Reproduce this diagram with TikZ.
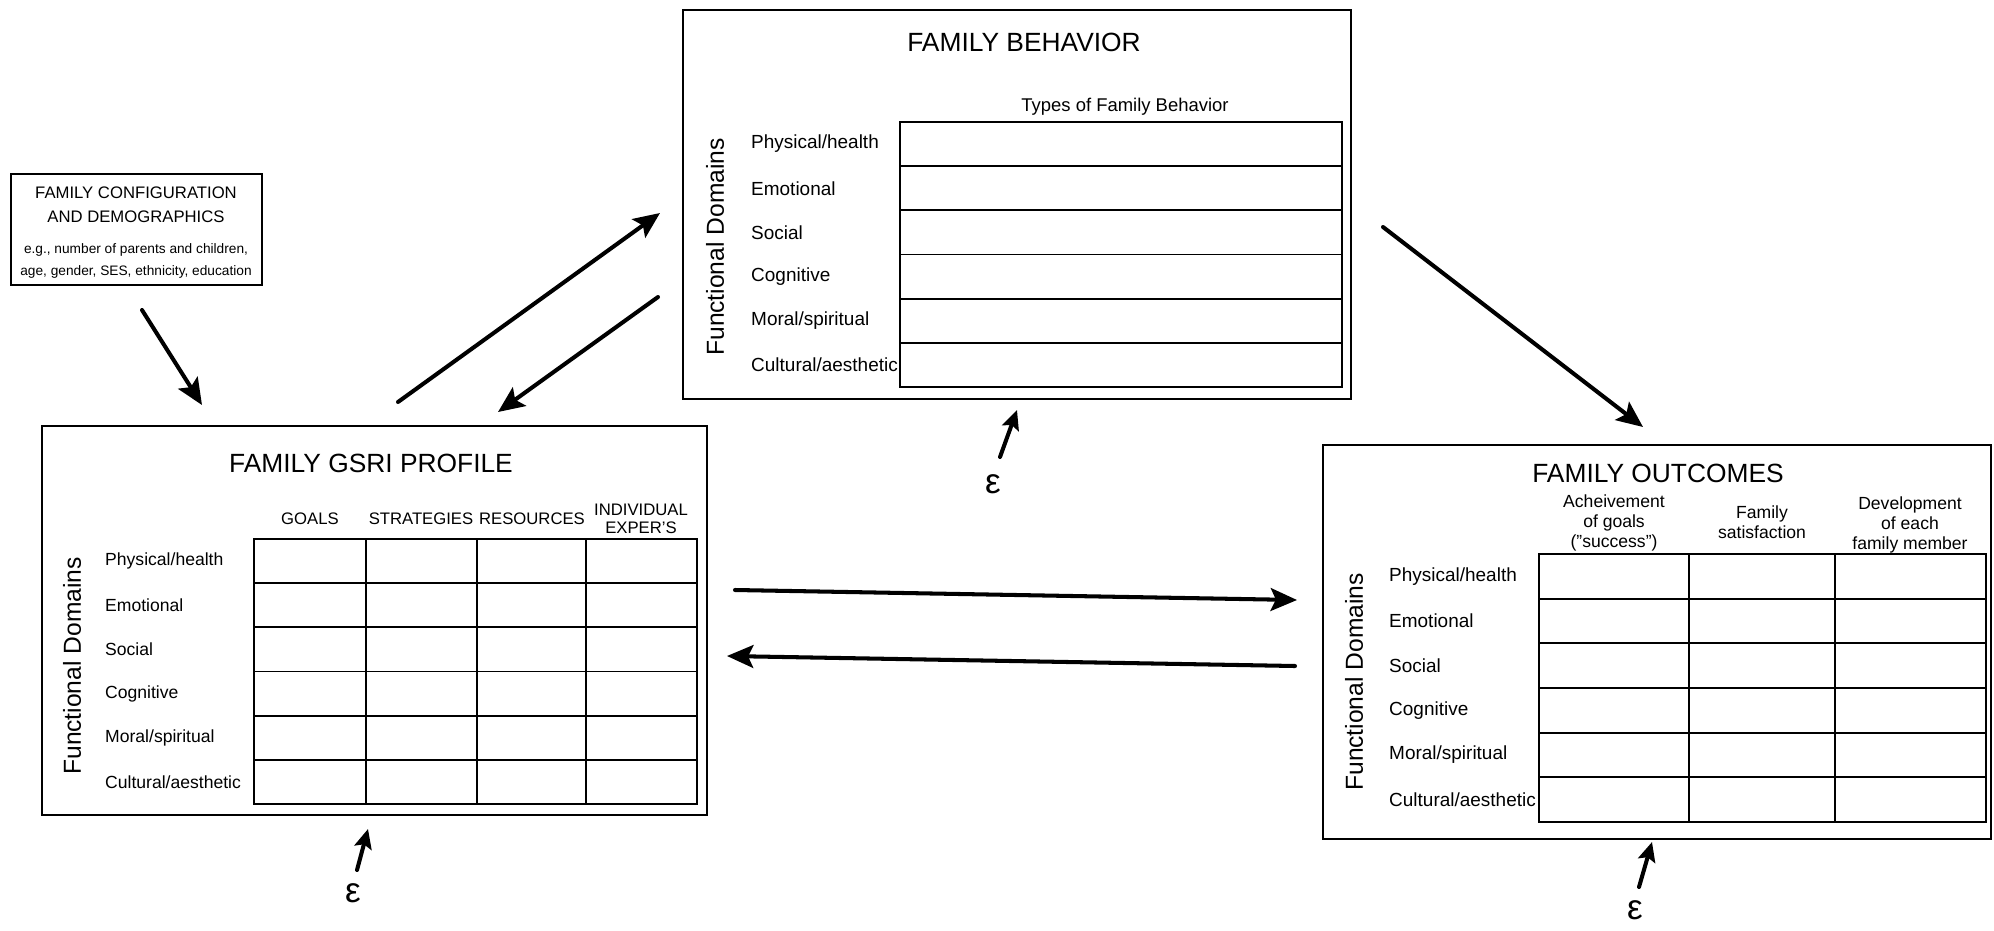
\documentclass[tikz,border=0pt]{standalone}
\usepackage{fontspec}
\setmainfont{Liberation Sans}
\usetikzlibrary{arrows.meta}

\begin{document}
\begin{tikzpicture}[x=0.02cm,y=-0.02cm,
        panel/.style={line width=1.1pt},
        cell/.style={line width=1pt},
        flow/.style={-{Stealth[length=15pt,width=13pt,inset=3pt]},line width=2.3pt,line cap=round},
        noise/.style={-{Stealth[length=11pt,width=10pt,inset=2pt]},line width=2.3pt,line cap=round},
        heading/.style={font=\fontsize{15}{18}\selectfont},
        domlab/.style={rotate=90,font=\fontsize{14}{16}\selectfont},
        rowlab/.style={anchor=west,font=\fontsize{10.8}{13}\selectfont},
        collab/.style={align=center,font=\fontsize{10}{11.5}\selectfont},
        errlab/.style={font=\fontsize{20}{22}\selectfont}]

    \useasboundingbox (0,0) rectangle (1994,930);

    % family configuration
    \draw[panel] (11,174) rectangle (262,285);
    \node[align=center,font=\fontsize{9.5}{13.6}\selectfont] (cfg-title) at (136,205)
        {FAMILY CONFIGURATION\\AND DEMOGRAPHICS};
    \node[align=center,font=\fontsize{7.8}{12.5}\selectfont] (cfg-note) at (136,261)
        {e.g., number of parents and children,\\age, gender, SES, ethnicity, education};

    % family behavior
    \draw[panel] (683,10) rectangle (1351,399);
    \node[heading] (beh-title) at (1024,42) {FAMILY BEHAVIOR};
    \node[collab,font=\fontsize{10.5}{12}\selectfont] (beh-type) at (1125,107) {Types of Family Behavior};
    \draw[cell] (900,122) rectangle (1342,387);
    \foreach \k in {1,...,5}
        \draw[cell] (900,{122+\k*44.17}) -- (1342,{122+\k*44.17});
    \foreach \t [count=\k] in {Physical/health,Emotional,Social,Cognitive,Moral/spiritual,Cultural/aesthetic}
        \node[rowlab] (beh-\k) at (745,{122+(\k-0.5)*44.17}) {\t};
    \node[domlab] (beh-dom) at (715,247) {Functional Domains};

    % family GSRI profile
    \draw[panel] (42,426) rectangle (707,815);
    \node[heading] (gsri-title) at (371,463) {FAMILY GSRI PROFILE};
    \draw[cell] (254,539) rectangle (697,804);
    \foreach \k in {1,...,5}
        \draw[cell] (254,{539+\k*44.17}) -- (697,{539+\k*44.17});
    \foreach \c in {366,477,586}
        \draw[cell] (\c,539) -- (\c,804);
    \foreach \t/\c [count=\k] in {GOALS/310,STRATEGIES/421,RESOURCES/532,INDIVIDUAL\\EXPER'S/641}
        \node[collab,font=\fontsize{9.5}{10}\selectfont] (gsri-c\k) at (\c,519) {\t};
    \foreach \t [count=\k] in {Physical/health,Emotional,Social,Cognitive,Moral/spiritual,Cultural/aesthetic}
        \node[rowlab,font=\fontsize{10}{12}\selectfont] (gsri-\k) at (99,{539+(\k-0.5)*44.17}) {\t};
    \node[domlab] (gsri-dom) at (72,666) {Functional Domains};

    % family outcomes
    \draw[panel] (1323,445) rectangle (1991,839);
    \node[heading] (out-title) at (1658,473) {FAMILY OUTCOMES};
    \draw[cell] (1539,554) rectangle (1986,822);
    \foreach \k in {1,...,5}
        \draw[cell] (1539,{554+\k*44.67}) -- (1986,{554+\k*44.67});
    \foreach \c in {1689,1835}
        \draw[cell] (\c,554) -- (\c,822);
    \node[collab] (out-c1) at (1614,523) {Acheivement\\of goals\\("success")};
    \node[collab] (out-c2) at (1762,522) {Family\\satisfaction};
    \node[collab] (out-c3) at (1910,525) {Development\\of each\\family member};
    \foreach \t [count=\k] in {Physical/health,Emotional,Social,Cognitive,Moral/spiritual,Cultural/aesthetic}
        \node[rowlab] (out-\k) at (1383,{554+(\k-0.5)*44.67}) {\t};
    \node[domlab] (out-dom) at (1354,682) {Functional Domains};

    % error terms
    \node[errlab] (beh-eps) at (993,484) {ε};
    \node[errlab] (gsri-eps) at (353,893) {ε};
    \node[errlab] (out-eps) at (1635,910) {ε};
    \coordinate (beh-e1) at (1000,457);
    \coordinate (beh-e2) at (1017,410);
    \coordinate (gsri-e1) at (357,870);
    \coordinate (gsri-e2) at (368,829);
    \coordinate (out-e1) at (1639,887);
    \coordinate (out-e2) at (1652,842);
    \draw[noise] (beh-e1) -- (beh-e2);
    \draw[noise] (gsri-e1) -- (gsri-e2);
    \draw[noise] (out-e1) -- (out-e2);

    % links
    \coordinate (A) at (142,310);
    \coordinate (B) at (202,405);
    \coordinate (C) at (398,402);
    \coordinate (D) at (660,213);
    \coordinate (E) at (658,297);
    \coordinate (F) at (498,412);
    \coordinate (G) at (1383,227);
    \coordinate (H) at (1643,427);
    \coordinate (I) at (735,590);
    \coordinate (J) at (1297,600);
    \coordinate (K) at (1295,666);
    \coordinate (L) at (727,656);
    \draw[flow] (A) -- (B);
    \draw[flow] (C) -- (D);
    \draw[flow] (E) -- (F);
    \draw[flow] (G) -- (H);
    \draw[flow] (I) -- (J);
    \draw[flow] (K) -- (L);
\end{tikzpicture}
\end{document}
